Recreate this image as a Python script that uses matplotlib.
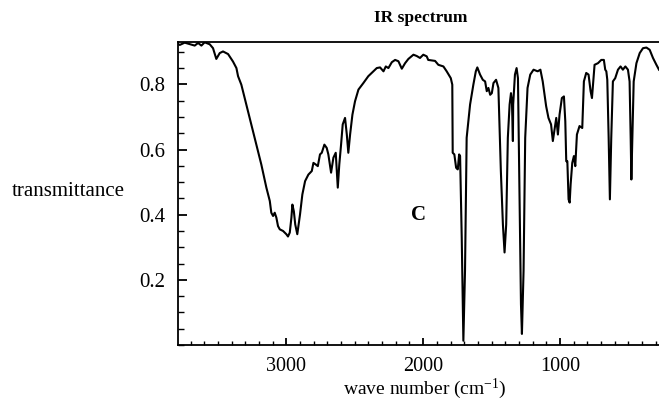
import matplotlib.pyplot as plt
from matplotlib.ticker import MultipleLocator, FixedLocator

plt.rcParams["font.family"] = ["Liberation Serif", "DejaVu Serif"]
plt.rcParams["mathtext.fontset"] = "custom"
plt.rcParams["mathtext.rm"] = "Liberation Serif"
plt.rcParams["mathtext.it"] = "Liberation Serif:italic"

# wave number (cm^-1) and transmittance
wavenumber = [
    3792, 3779, 3743, 3670, 3645, 3621, 3597, 3560, 3536, 3512, 3487, 3463,
    3426, 3390, 3365, 3353, 3329, 3280, 3231, 3183, 3146, 3121, 3110, 3097,
    3085, 3073, 3061, 3048, 3024, 3000, 2988, 2975, 2963, 2956, 2945, 2935,
    2920, 2900, 2883, 2863, 2839, 2814, 2802, 2785, 2770, 2754, 2741, 2722,
    2705, 2693, 2673, 2656, 2639, 2624, 2613, 2600, 2588, 2571, 2558, 2547,
    2534, 2517, 2498, 2473, 2437, 2401, 2364, 2339, 2315, 2290, 2273, 2254,
    2229, 2205, 2181, 2156, 2132, 2108, 2071, 2047, 2023, 1999, 1974, 1963,
    1913, 1889, 1852, 1828, 1798, 1787, 1784, 1772, 1759, 1747, 1737, 1730,
    1718, 1706, 1694, 1682, 1657, 1633, 1615, 1604, 1584, 1564, 1547, 1535,
    1523, 1510, 1498, 1486, 1467, 1450, 1432, 1417, 1405, 1393, 1381, 1368,
    1358, 1351, 1344, 1342, 1329, 1317, 1307, 1298, 1285, 1278, 1266, 1254,
    1237, 1217, 1193, 1163, 1143, 1126, 1101, 1084, 1065, 1052, 1040, 1027,
    1015, 1003, 986, 971, 961, 954, 946, 937, 929, 922, 910, 898, 888, 876,
    857, 837, 825, 808, 791, 776, 766, 752, 747, 722, 698, 679, 669, 661,
    654, 644, 635, 625, 613, 596, 576, 557, 540, 522, 503, 491, 483, 478,
    471, 461, 441, 417, 393, 368, 344, 320, 295, 276,
]
transmittance = [
    0.924, 0.921, 0.928, 0.919, 0.927, 0.919, 0.929, 0.923, 0.911, 0.878, 0.896, 0.901,
    0.893, 0.870, 0.850, 0.825, 0.799, 0.717, 0.636, 0.554, 0.483, 0.442, 0.406, 0.396,
    0.406, 0.391, 0.365, 0.355, 0.350, 0.340, 0.333, 0.345, 0.391, 0.431, 0.410, 0.370,
    0.340, 0.401, 0.462, 0.503, 0.523, 0.534, 0.559, 0.554, 0.549, 0.585, 0.590, 0.615,
    0.605, 0.585, 0.529, 0.575, 0.590, 0.483, 0.554, 0.615, 0.677, 0.697, 0.646, 0.590,
    0.646, 0.707, 0.748, 0.784, 0.804, 0.825, 0.840, 0.850, 0.852, 0.840, 0.855, 0.850,
    0.868, 0.875, 0.871, 0.848, 0.865, 0.878, 0.891, 0.887, 0.881, 0.891, 0.886, 0.875,
    0.872, 0.860, 0.855, 0.840, 0.819, 0.799, 0.590, 0.585, 0.544, 0.539, 0.585, 0.580,
    0.330, 0.013, 0.228, 0.636, 0.738, 0.799, 0.840, 0.852, 0.830, 0.814, 0.809, 0.779,
    0.789, 0.768, 0.773, 0.804, 0.814, 0.789, 0.534, 0.370, 0.284, 0.370, 0.636, 0.738,
    0.773, 0.748, 0.626, 0.738, 0.830, 0.850, 0.819, 0.534, 0.125, 0.034, 0.228, 0.636,
    0.789, 0.830, 0.845, 0.840, 0.845, 0.809, 0.733, 0.697, 0.677, 0.626, 0.661, 0.697,
    0.646, 0.707, 0.758, 0.763, 0.687, 0.564, 0.564, 0.447, 0.437, 0.493, 0.559, 0.580, 0.549, 0.646,
    0.672, 0.666, 0.809, 0.835, 0.830, 0.779, 0.758, 0.835, 0.860, 0.865, 0.875, 0.875, 0.845, 0.840,
    0.814, 0.636, 0.447, 0.636, 0.809, 0.819, 0.845, 0.855, 0.845, 0.855, 0.845, 0.809, 0.636, 0.508,
    0.636, 0.809, 0.865, 0.896, 0.911, 0.913, 0.906, 0.881, 0.860, 0.845,
]

fig = plt.figure(figsize=(6.59, 4.05), dpi=100)
ax = fig.add_axes([178 / 659, 60 / 405, 1 - 178 / 659, 303 / 405])

ax.plot(wavenumber, transmittance, color="black", linewidth=1.5)
ax.set_xlim(3792, 276)
ax.set_ylim(0, 0.93)

ax.xaxis.set_major_locator(FixedLocator([1000, 2000, 3000]))
ax.xaxis.set_minor_locator(MultipleLocator(100))
ax.yaxis.set_major_locator(FixedLocator([0.2, 0.4, 0.6, 0.8]))
ax.yaxis.set_minor_locator(MultipleLocator(0.05))

ax.tick_params(axis="x", which="major", direction="in", length=5, width=1.3,
               labelsize=14.5, pad=8.5, top=False)
ax.tick_params(axis="x", which="minor", direction="in", length=3, width=1.0, top=False)
ax.tick_params(axis="y", which="major", direction="in", length=6.5, width=1.3,
               labelsize=15, pad=9, right=False)
ax.tick_params(axis="y", which="minor", direction="in", length=4.5, width=1.0, right=False)

ax.spines["right"].set_visible(False)
for side in ["left", "bottom", "top"]:
    ax.spines[side].set_linewidth(1.3)

ax.text(2037, 0.4, "C", fontsize=15, fontweight="bold", ha="center", va="center")

fig.text(421 / 659, 1 - 18 / 405, "IR spectrum", fontsize=12.5, fontweight="bold",
         ha="center", va="center")
fig.text(12 / 659, 1 - 192 / 405, "transmittance", fontsize=15, ha="left", va="center")
fig.text(425 / 659, 1 - 389 / 405, "wave number (cm$^{-1}$)", fontsize=14,
         ha="center", va="center")

fig.savefig("out.png", dpi=100)
